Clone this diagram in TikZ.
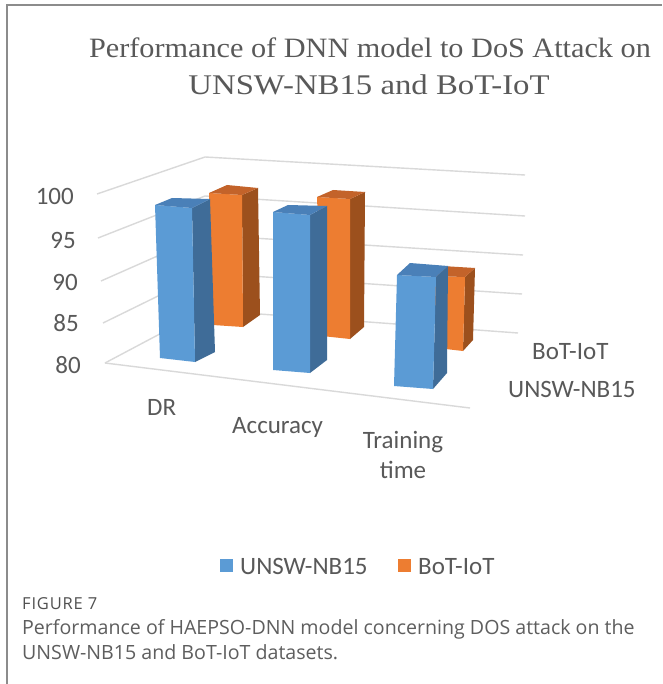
\documentclass[tikz,border=0pt]{standalone}
\usepackage{fontspec}
\setmainfont{Liberation Serif}
\newfontfamily\titlefont[FakeStretch=1.08]{Liberation Serif}
\newfontfamily\titlefontwide[FakeStretch=1.15]{Liberation Serif}
\newfontfamily\chartfont{Carlito}
\newfontfamily\capfont{Open Sans}
\newfontfamily\figfont[LetterSpace=5]{Open Sans}

\definecolor{txtgray}{HTML}{595959}
\definecolor{capgray}{HTML}{5E5E5E}
\definecolor{figgray}{HTML}{505050}
\definecolor{gridgray}{HTML}{D9D9D9}
\definecolor{framegray}{HTML}{8C8C8C}
\definecolor{blueF}{HTML}{5B9BD5}
\definecolor{blueS}{HTML}{3F6C98}
\definecolor{blueT}{HTML}{4A80B8}
\definecolor{orangeF}{HTML}{ED7D31}
\definecolor{orangeS}{HTML}{9C501D}
\definecolor{orangeT}{HTML}{C3632A}

\begin{document}
\begin{tikzpicture}[x=1pt,y=-1pt,
  gridline/.style={draw=gridgray,line width=1.4pt},
  ticklabel/.style={font=\chartfont\fontsize{25}{30}\selectfont,text=txtgray,inner sep=0pt,anchor=base east},
  catlabel/.style={font=\chartfont\fontsize{25}{30}\selectfont,text=txtgray,inner sep=0pt,anchor=base west},
  legendbox/.style={draw=none,minimum size=13pt,inner sep=0pt},
  captext/.style={font=\capfont\fontsize{19.6}{25}\selectfont,text=capgray,inner sep=0pt,anchor=base west}]
\useasboundingbox (0,0) rectangle (662,684);
\fill[white] (0,0) rectangle (662,684);

% panel frame (left and top edges)
\draw[framegray,line width=1.5pt] (7,684) -- (7,5) -- (662,5);

% title
\node[font=\titlefont\fontsize{28}{34}\selectfont,text=txtgray,inner sep=0pt,anchor=base] (title1) at (370,58)
  {Performance of DNN model to DoS Attack on};
\node[font=\titlefontwide\fontsize{28.5}{34}\selectfont,text=txtgray,inner sep=0pt,anchor=base] (title2) at (369,95)
  {UNSW-NB15 and BoT-IoT};

% walls: side wall and back wall gridlines
\coordinate (w100f) at (97,194);  \coordinate (w100c) at (205,157); \coordinate (w100r) at (525,175);
\coordinate (w95f)  at (98,238);  \coordinate (w95c)  at (205,196); \coordinate (w95r)  at (525,216);
\coordinate (w90f)  at (101,281); \coordinate (w90c)  at (205,235); \coordinate (w90r)  at (523,255);
\coordinate (w85f)  at (103,323); \coordinate (w85c)  at (205,273); \coordinate (w85r)  at (522,294);
\coordinate (w80f)  at (105,363); \coordinate (w80c)  at (205,310); \coordinate (w80r)  at (518,333);
\coordinate (floorR) at (470,408);
\foreach \v in {100,95,90,85,80}{
  \draw[gridline,line join=round] (w\v f) -- (w\v c) -- (w\v r);
}
% floor front edge (category axis)
\draw[gridline] (w80f) -- (floorR);

% value axis labels
\node[ticklabel] (t100) at (74,205) {100};
\node[ticklabel] (t95)  at (76,248) {95};
\node[ticklabel] (t90)  at (78,290) {90};
\node[ticklabel] (t85)  at (79,331) {85};
\node[ticklabel] (t80)  at (81,373) {80};

% a 3-D column: front face, side face, top face
\newcommand\drawcolumn[8]{%
  % #1 colour prefix, #2 TL, #3 TR, #4 BR, #5 BL, #6 top back-right, #7 bottom back-right, #8 top back-left
  \fill[#1S] #3 -- #6 -- #7 -- #4 -- cycle;
  \fill[#1F] #2 -- #3 -- #4 -- #5 -- cycle;
  \fill[#1T] #2 -- #8 -- #6 -- #3 -- cycle;
}

% BoT-IoT row (back)
\drawcolumn{orange}{(209,193)}{(242,195)}{(243,327)}{(213,325)}{(258,188)}{(260,315)}{(227,185)}
\drawcolumn{orange}{(317,197)}{(350,199)}{(350,339)}{(322,336)}{(365,192)}{(364,327)}{(333,190)}
\drawcolumn{orange}{(432,276)}{(465,277)}{(463,351)}{(437,348)}{(475,268)}{(473,340)}{(442,266)}

% UNSW-NB15 row (front)
\drawcolumn{blue}{(155,205)}{(192,208)}{(195,362)}{(160,358)}{(210,199)}{(215,352)}{(172,198)}
\drawcolumn{blue}{(273,212)}{(310,215)}{(310,373)}{(273,370)}{(327,206)}{(327,360)}{(288,205)}
\drawcolumn{blue}{(397,275)}{(436,277)}{(433,389)}{(394,386)}{(448,266)}{(447,373)}{(410,263)}

% category labels
\node[catlabel] (cDR)  at (147,415) {DR};
\node[catlabel] (cAcc) at (232,433) {Accuracy};
\node[catlabel,anchor=base] (cTr1) at (403,448) {Training};
\node[catlabel,anchor=base] (cTr2) at (403,478) {time};

% series labels
\node[catlabel] (sBot)  at (532,359) {BoT-IoT};
\node[catlabel] (sUnsw) at (508,397) {UNSW-NB15};

% legend
\node[legendbox,fill=blueF,anchor=north west] (lgU) at (220,559) {};
\node[catlabel,anchor=base west] (lgUt) at (240,574) {UNSW-NB15};
\node[legendbox,fill=orangeF,anchor=north west] (lgB) at (398,559) {};
\node[catlabel,anchor=base west] (lgBt) at (418,574) {BoT-IoT};

% figure caption
\node[font=\figfont\fontsize{16.5}{18}\selectfont,text=figgray,inner sep=0pt,anchor=base west] (fig) at (22,609) {FIGURE 7};
\node[captext] (cap1) at (22,634)
  {Performance of HAEPSO-DNN model concerning DOS attack on the};
\node[captext] (cap2) at (22,659)
  {UNSW-NB15 and BoT-IoT datasets.};
\end{tikzpicture}
\end{document}
